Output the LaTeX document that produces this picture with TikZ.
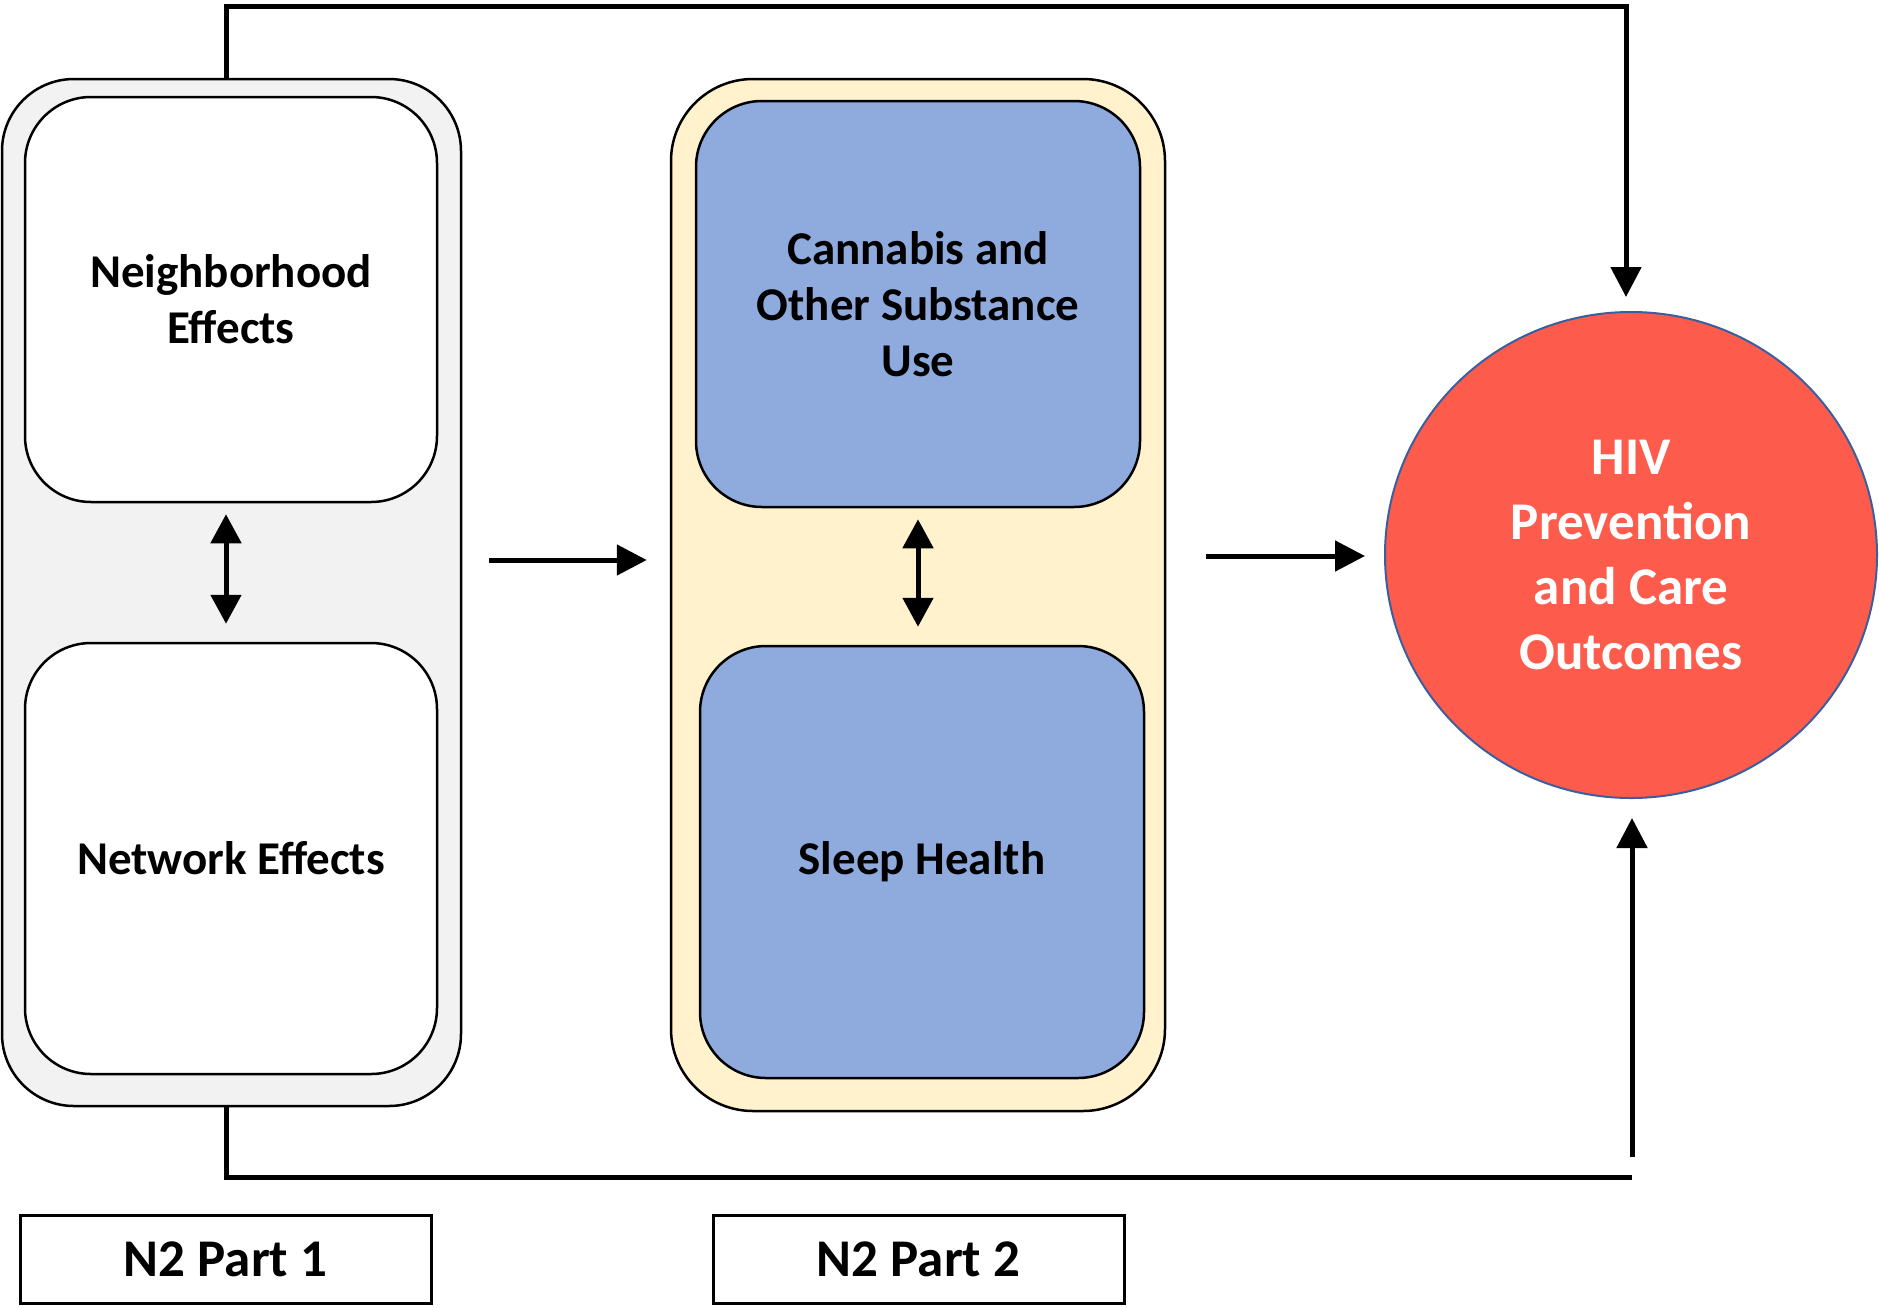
\documentclass[tikz,border=0pt]{standalone}
\usepackage{fontspec}
\setmainfont{Carlito}
\usetikzlibrary{arrows.meta,shapes.geometric}

\definecolor{panelgray}{HTML}{F2F2F2}
\definecolor{panelcream}{HTML}{FFF2CC}
\definecolor{factorblue}{HTML}{8FAADC}
\definecolor{outcomered}{HTML}{FD5C4D}
\definecolor{outcomeedge}{HTML}{3A5E9E}

\begin{document}
\begin{tikzpicture}[x=1pt,y=-1pt,
  panel/.style={draw=black, line width=2.5pt, rounded corners=#1, inner sep=0pt},
  boxtext/.style={font=\fontsize{47pt}{56pt}\selectfont\bfseries, align=center, text=black},
  labelbox/.style={draw=black, line width=3pt, minimum width=411pt, minimum height=88pt,
                   inner sep=0pt, font=\fontsize{53pt}{60pt}\selectfont\bfseries},
  link/.style={line width=5pt, draw=black},
  onehead/.style={-{Triangle[width=30pt,length=30pt]}},
  twohead/.style={{Triangle[width=30pt,length=29pt]}-{Triangle[width=30pt,length=29pt]}}
]
\useasboundingbox (0,0) rectangle (1879,1307);

% group panels
\node[panel=72pt, fill=panelgray, minimum width=459pt, minimum height=1027pt] (grp1) at (231.5,592.5) {};
\node[panel=82pt, fill=panelcream, minimum width=494pt, minimum height=1032pt] (grp2) at (918,595) {};

% factor boxes
\node[panel=66pt, fill=white, minimum width=412pt, minimum height=405pt, boxtext] (nbh) at (231,299.5) {Neighborhood\\Effects};
\node[panel=66pt, fill=white, minimum width=412pt, minimum height=431pt, boxtext] (net) at (231,858.5) {Network Effects};
\node[panel=66pt, fill=factorblue, minimum width=444pt, minimum height=406pt, boxtext] (can) at (918,304) {Cannabis and\\Other Substance\\Use};
\node[panel=66pt, fill=factorblue, minimum width=444pt, minimum height=432pt, boxtext] (slp) at (922,862) {Sleep Health};

% outcome
\node[ellipse, draw=outcomeedge, line width=2pt, fill=outcomered, minimum width=492pt, minimum height=486pt,
      inner sep=0pt, text=white, font=\fontsize{53pt}{65pt}\selectfont\bfseries, align=center] (hiv) at (1631,555)
      {HIV\\Prevention\\and Care\\Outcomes};

% part labels
\node[labelbox] (lab1) at (225.5,1259) {N2 Part 1};
\node[labelbox] (lab2) at (918.5,1259) {N2 Part 2};

% links within panels
\draw[link,twohead] ([xshift=-5pt,yshift=-11pt]nbh.south) -- ([xshift=-5pt,yshift=18pt]net.north);
\draw[link,twohead] ([yshift=-11pt]can.south) -- ([xshift=-4pt,yshift=18pt]slp.north);

% links between stages
\draw[link,onehead] ([xshift=27pt,yshift=32.5pt]grp1.east) -- ([xshift=-23pt,yshift=35pt]grp2.west);
\draw[link,onehead] ([xshift=40pt,yshift=39pt]grp2.east) -- ([xshift=-19pt,yshift=-1pt]hiv.west);

% direct paths from part 1 to the outcome
\draw[link,onehead] ([xshift=-5.5pt]grp1.north) -- ++(0,-71) -| ([xshift=-5pt,yshift=14pt]hiv.north);
\coordinate (botend) at (1632,1177);
\coordinate (botstart) at (1632,1157);
\draw[link] ([xshift=-5.5pt]grp1.south) |- (botend);
\draw[link,onehead] (botstart) -- ([xshift=1pt,yshift=-19pt]hiv.south);
\end{tikzpicture}
\end{document}
